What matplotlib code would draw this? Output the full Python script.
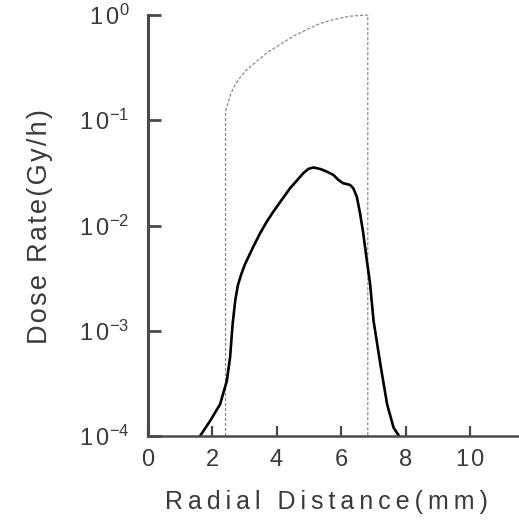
import matplotlib
matplotlib.use("Agg")
import matplotlib.pyplot as plt
from matplotlib.ticker import FixedLocator, NullLocator

# ---- data ----
dose_x = [1.63, 1.94, 2.25, 2.46, 2.56, 2.64, 2.72, 2.80, 2.90, 3.02, 3.28, 3.49,
          3.70, 3.90, 4.16, 4.42, 4.63, 4.83, 4.99, 5.14, 5.35, 5.56, 5.76, 5.92,
          6.07, 6.28, 6.38, 6.49, 6.59, 6.69, 6.80, 6.90, 7.01, 7.22, 7.43, 7.63,
          7.80]
dose_y = [1.0e-4, 1.39e-4, 2.0e-4, 3.34e-4, 5.57e-4, 1.16e-3, 1.93e-3, 2.69e-3,
          3.39e-3, 4.27e-3, 6.28e-3, 8.43e-3, 1.09e-2, 1.35e-2, 1.75e-2, 2.26e-2,
          2.67e-2, 3.14e-2, 3.45e-2, 3.56e-2, 3.45e-2, 3.25e-2, 3.03e-2, 2.71e-2,
          2.52e-2, 2.43e-2, 2.26e-2, 1.88e-2, 1.31e-2, 8.43e-3, 4.69e-3, 2.82e-3,
          1.24e-3, 4.82e-4, 2.0e-4, 1.20e-4, 1.0e-4]

env_x = [2.42, 2.42, 2.46, 2.56, 2.66, 2.82, 3.08, 3.39, 3.70, 4.11, 4.52, 4.94,
         5.35, 5.77, 6.28, 6.83, 6.83]
env_y = [1.0e-4, 0.121, 0.135, 0.169, 0.203, 0.243, 0.303, 0.363, 0.437, 0.524,
         0.628, 0.728, 0.830, 0.906, 0.975, 1.0, 1.0e-4]

x_ticks = [0, 2, 4, 6, 8, 10]
x_tick_labels = ["0", "2", "4", "6", "8", "1\u200a0"]
y_ticks = [1e-4, 1e-3, 1e-2, 1e-1, 1e0]
y_tick_labels = [r"$\mathregular{1\,0^{-4}}$", r"$\mathregular{1\,0^{-3}}$",
                 r"$\mathregular{1\,0^{-2}}$", r"$\mathregular{1\,0^{-1}}$",
                 r"$\mathregular{1\,0^{0}}$"]

x_label = "Radial Distance(mm)"
y_label = "Dose Rate(Gy/h)"

# ---- figure ----
plt.rcParams['font.family'] = ['Liberation Sans', 'DejaVu Sans']
plt.rcParams['mathtext.fontset'] = 'custom'
plt.rcParams['mathtext.rm'] = 'Liberation Sans'

W, H = 519, 524
fig = plt.figure(figsize=(W / 100, H / 100), dpi=100)
left, bottom_px, top_px = 147.5, 436, 15
ax_w, ax_h = W - left, bottom_px - top_px
ax = fig.add_axes([left / W, (H - bottom_px) / H, ax_w / W, ax_h / H])

txt = '#3a3a3a'
spine_c = '#4a4a4a'

ax.plot(env_x, env_y, color='#8a8a8a', lw=0.9, ls=(0, (2.5, 1.5)), clip_on=False)
ax.plot(dose_x, dose_y, color='black', lw=1.9, solid_capstyle='round',
        solid_joinstyle='round')

ax.set_yscale('log')
ax.set_ylim(1e-4, 1e0)
ax.set_xlim(0, ax_w / 32.25)

ax.yaxis.set_major_locator(FixedLocator(y_ticks))
ax.yaxis.set_minor_locator(NullLocator())
ax.set_yticklabels(y_tick_labels)
ax.set_xticks(x_ticks)
ax.set_xticklabels(x_tick_labels)

for s in ['top', 'right']:
    ax.spines[s].set_visible(False)
ax.spines['left'].set_linewidth(2.2)
ax.spines['bottom'].set_linewidth(1.8)
ax.spines['left'].set_color(spine_c)
ax.spines['bottom'].set_color(spine_c)

ax.tick_params(axis='y', direction='in', length=9, width=2.0, color=spine_c,
               labelsize=17, labelcolor=txt, pad=13)
ax.tick_params(axis='x', direction='in', length=7, width=1.6, color=spine_c,
               labelsize=17, labelcolor=txt, pad=9)

def spaced(s, sep):
    return sep.join(list(s))

ax.set_xlabel(spaced(x_label, "\u2009"), fontsize=18, color=txt)
ax.xaxis.set_label_coords((326.5 - left) / ax_w, -(490 - bottom_px) / ax_h)
ax.set_ylabel(spaced(y_label, "\u200a"), fontsize=19.5, color=txt)
ax.yaxis.set_label_coords(-(left - 53) / ax_w, (bottom_px - 226.5) / ax_h)

fig.savefig("out.png", dpi=100)
